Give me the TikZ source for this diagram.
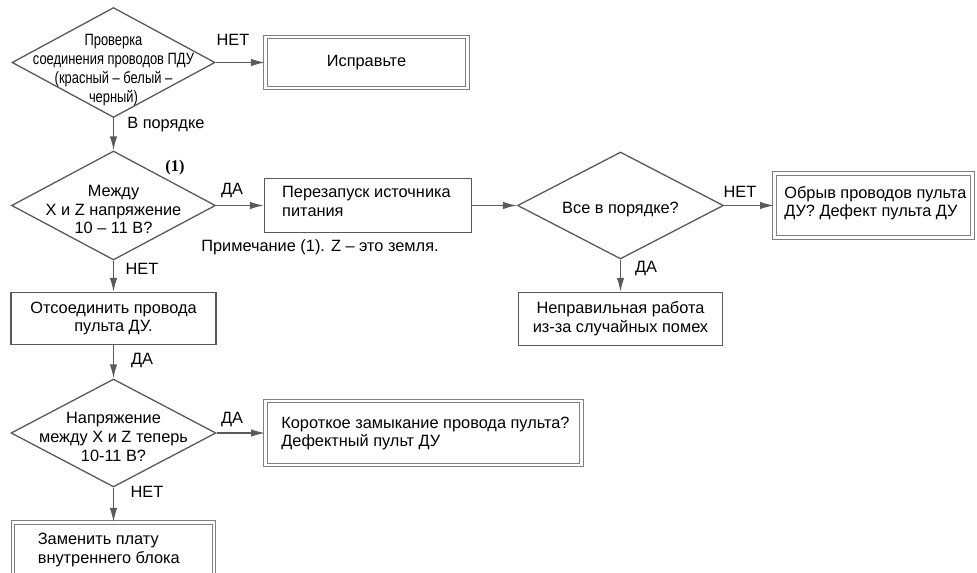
\documentclass[tikz,border=0pt]{standalone}
\usepackage{fontspec}
\setmainfont{Liberation Sans}
\newfontfamily\narrowfont{Liberation Sans}[FakeStretch=0.79]
\newfontfamily\notefont{Liberation Serif}
\usetikzlibrary{shapes.geometric,arrows.meta}
\definecolor{linegray}{HTML}{5A5A5A}

\begin{document}
\begin{tikzpicture}[
    x=0.02cm, y=-0.02cm,
    every node/.style={font=\fontsize{9.3}{10.6}\selectfont, inner sep=0pt},
    decision/.style={diamond, draw=linegray, line width=0.75pt},
    box/.style={rectangle, draw=linegray, line width=0.75pt, align=center},
    dbox/.style={rectangle, draw=black!50, line width=0.6pt, double=white, double distance=1.6pt},
    inside/.style={align=center, yshift=-0.08cm},
    topleft/.style={anchor=north west, align=left},
    flow/.style={draw=linegray, line width=0.75pt, -{Latex[length=2.8mm,width=1.5mm]}}
]
  \useasboundingbox (0,0) rectangle (977,573);
  \clip (0,0) rectangle (977,573);

  % left column
  \node[decision, minimum width=4.06cm, minimum height=2.2cm,
        label={[inside, yshift=-0.08cm, font=\narrowfont\fontsize{9.3}{10.8}\selectfont]center:Проверка\\соединения проводов ПДУ\\(красный – белый –\\черный)}]
        (check) at (113.5,62.5) {};
  \node[decision, minimum width=4.08cm, minimum height=2.18cm,
        label={[inside]center:Между\\X и Z напряжение\\10 – 11 В?}]
        (volt) at (113.5,205.5) {};
  \node[box, minimum width=4.1cm, minimum height=1.04cm] (unplug) at (113.5,318.5) {Отсоединить провода\\пульта ДУ.};
  \node[decision, minimum width=4.1cm, minimum height=2.16cm,
        label={[inside]center:Напряжение\\между X и Z теперь\\10-11 В?}]
        (volt2) at (113.5,433) {};
  \node[dbox, minimum width=4.02cm, minimum height=1.3cm,
        label={[topleft, xshift=0.5cm, yshift=-0.22cm]north west:Заменить плату\\внутреннего блока}]
        (replace) at (113.5,555) {};

  % middle and right
  \node[dbox, minimum width=4.04cm, minimum height=1.02cm] (fix) at (366.5,62.5) {Исправьте};
  \node[box, minimum width=4.14cm, minimum height=1.08cm,
        label={[topleft, xshift=0.36cm, yshift=-0.16cm]north west:Перезапуск источника\\питания}]
        (restart) at (368,205.5) {};
  \node[decision, minimum width=4.12cm, minimum height=2.14cm,
        label={[inside]center:Все в порядке?}]
        (allok) at (620.5,205.5) {};
  \node[dbox, minimum width=3.96cm, minimum height=1.28cm,
        label={[topleft, xshift=0.2cm, yshift=-0.26cm]north west:Обрыв проводов пульта\\ДУ? Дефект пульта ДУ}]
        (broken) at (873.5,205.5) {};
  \node[box, minimum width=4.08cm, minimum height=1.06cm] (noise) at (620.5,319) {Неправильная работа\\из-за случайных помех};
  \node[dbox, minimum width=6.32cm, minimum height=1.28cm,
        label={[topleft, xshift=0.32cm, yshift=-0.32cm]north west:Короткое замыкание провода пульта?\\Дефектный пульт ДУ}]
        (short) at (423.5,433) {};

  % answers and note
  \node (no1) at (233,40) {НЕТ};
  \node[anchor=west] (fine1) at (127,125) {В порядке};
  \node (yes1) at (232,191) {ДА};
  \node[font=\notefont\bfseries\fontsize{9.3}{10.6}\selectfont] (ref1) at (175,168) {(1)};
  \node (note) at (320,247) {Примечание (1). Z – это земля.};
  \node (no2) at (142,269) {НЕТ};
  \node (no3) at (740,192) {НЕТ};
  \node (yes2) at (646,269) {ДА};
  \node (yes3) at (142,361) {ДА};
  \node (yes4) at (232,420) {ДА};
  \node (no4) at (147,492) {НЕТ};

  % connectors
  \draw[flow] (check.east) -- (fix.west);
  \draw[flow] (check.south) -- (volt.north);
  \draw[flow] (volt.east) -- (restart.west);
  \draw[flow] (restart.east) -- (allok.west);
  \draw[flow] (allok.east) -- (broken.west);
  \draw[flow] (allok.south) -- (noise.north);
  \draw[flow] (volt.south) -- (unplug.north);
  \draw[flow] (unplug.south) -- (volt2.north);
  \draw[flow] (volt2.east) -- (short.west);
  \draw[flow] (volt2.south) -- (replace.north);
\end{tikzpicture}
\end{document}
